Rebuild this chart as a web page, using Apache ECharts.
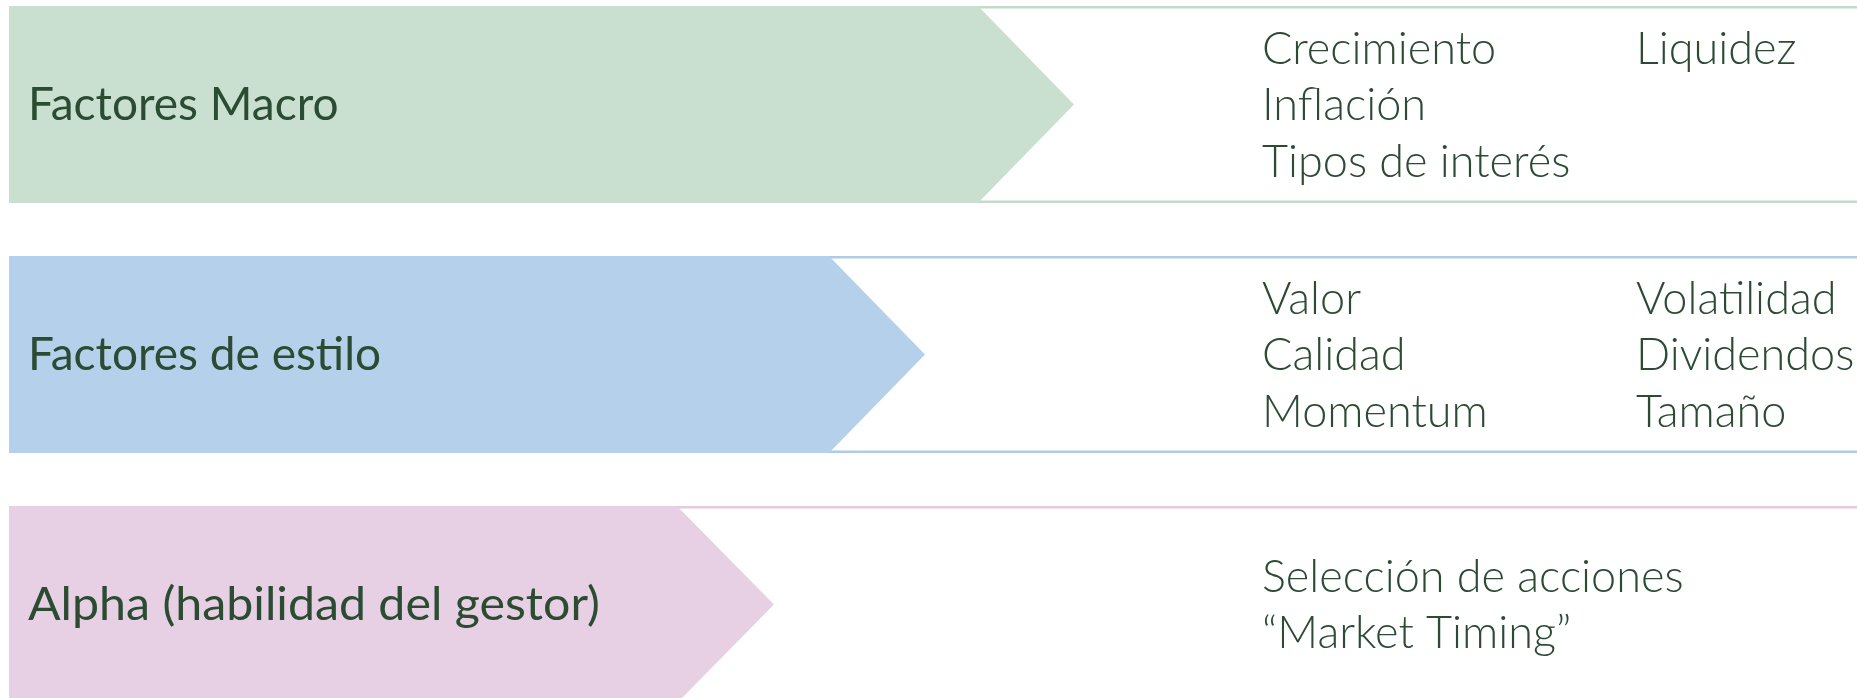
<!DOCTYPE html>
<html>

<head>
    <meta charset="utf-8">
    <title>Factores</title>
    <style>
        html, body { margin: 0; padding: 0; background: #ffffff; }
    </style>
</head>

<body>
    <div id="main" style="width: 1857px;height:698px;"></div>

    <script src="https://cdnjs.cloudflare.com/ajax/libs/echarts/6.0.0/echarts.min.js"></script>
    <script>
        // filas del diagrama (unidades del eje: px de la imagen original)
        var rowLabels = ['Factores Macro', 'Factores de estilo', 'Alpha (habilidad del gestor)'];
        var rowTop = [6, 256, 506];
        var rowBottom = [203, 453, 703];
        var arrowBodyEnd = [978, 829, 677];
        var arrowTip = [1074, 925, 774];

        // factores de cada fila, dos columnas
        var factorsLeft = [
            ['Crecimiento', 'Inflación', 'Tipos de interés'],
            ['Valor', 'Calidad', 'Momentum'],
            ['Selección de acciones', '\u201CMarket Timing\u201D']
        ];
        var factorsRight = [
            ['Liquidez'],
            ['Volatilidad', 'Dividendos', 'Tamaño'],
            []
        ];

        var fillColors = ['#c9e0d0', '#b5d0ea', '#e7d0e3'];
        var lineColors = ['#c3dbca', '#afcbe6', '#e3cbdf'];
        var textColor = '#2b4b33';
        var titleScaleX = [1, 1, 1.05];

        var myChart = echarts.init(document.getElementById('main'));

        function renderRow(params, api) {
            var i = api.value(0);
            var top = api.value(1), bottom = api.value(2);
            var body = api.value(3), tip = api.value(4);
            var mid = (top + bottom) / 2;
            var left = 9, right = 1857;

            var pts = [[left, top], [body, top], [tip, mid], [body, bottom], [left, bottom]]
                .map(function (p) { return api.coord(p); });

            var children = [];
            // marco fino a lo largo de la fila
            children.push({
                type: 'polyline',
                shape: { points: [api.coord([left, top + 1.2]), api.coord([right, top + 1.2])] },
                style: { stroke: lineColors[i], lineWidth: 2.5, fill: null }
            });
            children.push({
                type: 'polyline',
                shape: { points: [api.coord([left, bottom - 1.2]), api.coord([right, bottom - 1.2])] },
                style: { stroke: lineColors[i], lineWidth: 2.5, fill: null }
            });
            // flecha
            children.push({
                type: 'polygon',
                shape: { points: pts },
                style: { fill: fillColors[i], stroke: null }
            });
            // titulo
            var tp = api.coord([28, mid + 1]);
            children.push({
                type: 'text',
                x: tp[0], y: tp[1],
                scaleX: titleScaleX[i],
                style: {
                    text: rowLabels[i], x: 0, y: 0,
                    fill: textColor, fontFamily: 'Lato', fontSize: 46, fontWeight: 400,
                    align: 'left', verticalAlign: 'middle'
                }
            });
            // factores
            var step = 56.5;
            var cols = [[factorsLeft[i], 1262], [factorsRight[i], 1636]];
            var n = factorsLeft[i].length;
            var firstMid = mid - step * (n - 1) / 2;
            cols.forEach(function (c) {
                c[0].forEach(function (t, k) {
                    var p = api.coord([c[1], firstMid + k * step + 1]);
                    children.push({
                        type: 'text',
                        style: {
                            text: t, x: p[0], y: p[1],
                            fill: textColor, fontFamily: 'Lato', fontSize: 45, fontWeight: 300,
                            align: 'left', verticalAlign: 'middle'
                        }
                    });
                });
            });
            return { type: 'group', children: children };
        }

        var option = {
            animation: false,
            grid: { left: 0, right: 0, top: 0, bottom: 0 },
            xAxis: { type: 'value', min: 0, max: 1857, show: false },
            yAxis: { type: 'value', min: 0, max: 698, inverse: true, show: false },
            series: [{
                type: 'custom',
                clip: true,
                renderItem: renderRow,
                data: rowLabels.map(function (name, i) {
                    return [i, rowTop[i], rowBottom[i], arrowBodyEnd[i], arrowTip[i]];
                })
            }]
        };
        myChart.setOption(option);
    </script>
</body>

</html>
